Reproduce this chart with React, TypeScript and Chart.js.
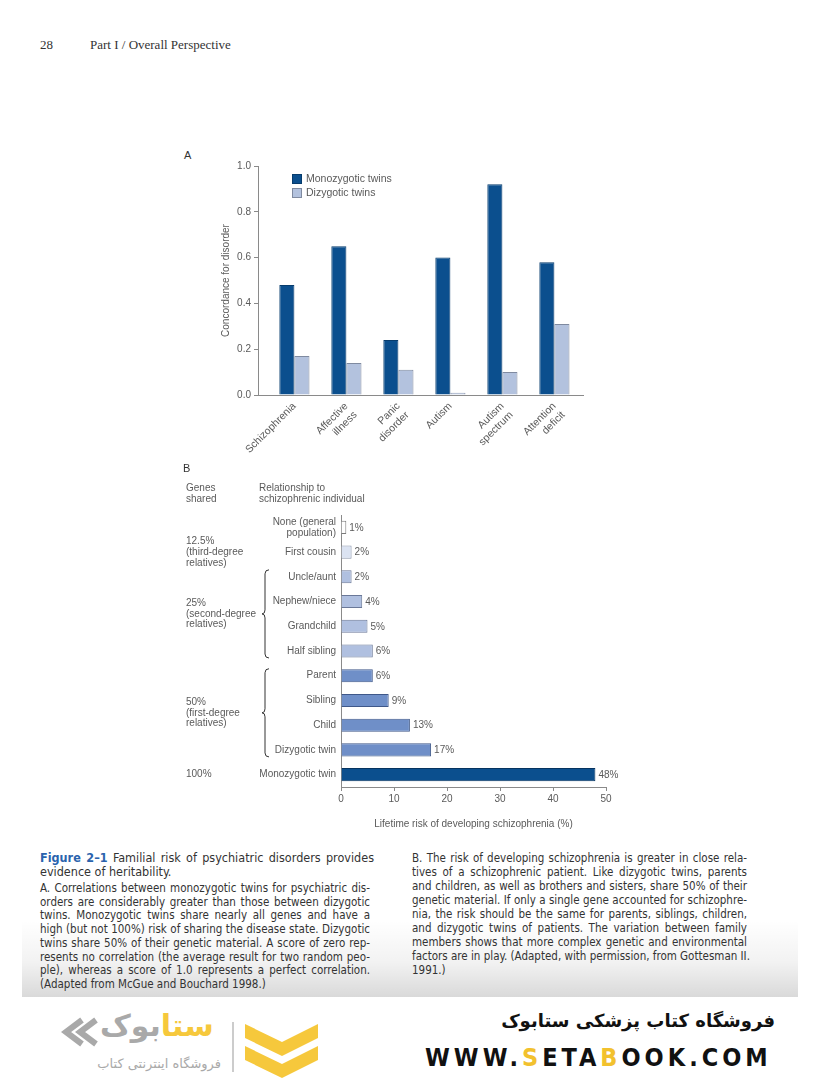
import React, { useEffect, useRef } from "react";
import { Chart, registerables } from "chart.js";

Chart.register(...registerables);

// ---------- Panel A data ----------
const disordersA: string[][] = [
  ["Schizophrenia"],
  ["Affective", "illness"],
  ["Panic", "disorder"],
  ["Autism"],
  ["Autism", "spectrum"],
  ["Attention", "deficit"],
];
const monozygoticA = [0.48, 0.65, 0.24, 0.6, 0.92, 0.58];
const dizygoticA = [0.17, 0.14, 0.11, 0.01, 0.1, 0.31];
const yTicksA = [0, 0.2, 0.4, 0.6, 0.8, 1.0];

// ---------- Panel B data ----------
const relationsB: (string | string[])[] = [
  ["None (general", "population)"],
  "First cousin",
  "Uncle/aunt",
  "Nephew/niece",
  "Grandchild",
  "Half sibling",
  "Parent",
  "Sibling",
  "Child",
  "Dizygotic twin",
  "Monozygotic twin",
];
const riskB = [1, 2, 2, 4, 5, 6, 6, 9, 13, 17, 48];
const xTicksB = [0, 10, 20, 30, 40, 50];
// genetic-relatedness group of each row (0 none, 1 third, 2 second, 3 first, 4 identical)
const groupB = [0, 1, 2, 2, 2, 2, 3, 3, 3, 3, 4];
const fillB = ["#ffffff", "#dbe3f2", "#b0c0e0", "#6f8fc8", "#0b4f8e"];
const edgeB = ["#7a7a7a", "#8b96ab", "#6a7898", "#3f5889", "#06335f"];
const genesGroupsB = [
  { lines: ["12.5%", "(third-degree", "relatives)"], from: 1, to: 1, brace: false },
  { lines: ["25%", "(second-degree", "relatives)"], from: 2, to: 5, brace: true },
  { lines: ["50%", "(first-degree", "relatives)"], from: 6, to: 9, brace: true },
  { lines: ["100%"], from: 10, to: 10, brace: false },
];

const FONT = "'Liberation Sans', Arial, sans-serif";
const TXT = "#5a5a5a";

Chart.defaults.font.family = FONT;
Chart.defaults.color = TXT;

const legendPluginA = {
  id: "legendA",
  afterDraw(chart: any) {
    const { ctx, chartArea } = chart;
    ctx.save();
    chart.data.datasets.forEach((ds: any, i: number) => {
      const x = chartArea.left + 34;
      const y = chartArea.top + 8 + i * 14;
      ctx.fillStyle = ds.backgroundColor;
      ctx.fillRect(x, y, 10, 10);
      ctx.strokeStyle = ds.borderColor;
      ctx.lineWidth = 1;
      ctx.strokeRect(x + 0.5, y + 0.5, 9, 9);
      ctx.fillStyle = TXT;
      ctx.font = `10.5px ${FONT}`;
      ctx.textBaseline = "middle";
      ctx.textAlign = "left";
      ctx.fillText(ds.label, x + 14, y + 5.5);
    });
    ctx.restore();
  },
};

const annotPluginB = {
  id: "annotB",
  afterDraw(chart: any) {
    const { ctx } = chart;
    const yScale = chart.scales.y;
    const meta = chart.getDatasetMeta(0);
    ctx.save();
    ctx.font = `10px ${FONT}`;
    ctx.fillStyle = TXT;
    ctx.textBaseline = "middle";
    ctx.textAlign = "left";
    // value labels
    meta.data.forEach((bar: any, i: number) => {
      ctx.fillText(`${riskB[i]}%`, bar.x + 3, bar.y + 0.5);
    });
    // genes shared groups
    genesGroupsB.forEach((g) => {
      const y0 = yScale.getPixelForValue(g.from);
      const y1 = yScale.getPixelForValue(g.to);
      const yc = (y0 + y1) / 2;
      const lh = 10.8;
      const start = yc - ((g.lines.length - 1) * lh) / 2;
      g.lines.forEach((t, k) => ctx.fillText(t, 16, start + k * lh));
      if (g.brace) {
        const top = y0 - 7;
        const bot = y1 + 7;
        const mid = (top + bot) / 2;
        const x = 95;
        ctx.strokeStyle = "#333";
        ctx.lineWidth = 1;
        ctx.beginPath();
        ctx.moveTo(x + 4, top);
        ctx.quadraticCurveTo(x, top, x, top + 4);
        ctx.lineTo(x, mid - 4);
        ctx.quadraticCurveTo(x, mid, x - 3, mid);
        ctx.quadraticCurveTo(x, mid, x, mid + 4);
        ctx.lineTo(x, bot - 4);
        ctx.quadraticCurveTo(x, bot, x + 4, bot);
        ctx.stroke();
      }
    });
    ctx.restore();
  },
};

function ChartA() {
  const ref = useRef<HTMLCanvasElement>(null);
  useEffect(() => {
    if (!ref.current) return;
    const chart = new Chart(ref.current, {
      type: "bar",
      data: {
        datasets: [
          {
            label: "Monozygotic twins",
            data: monozygoticA.map((v, i) => ({ x: i, y: v })),
            backgroundColor: "#0b4f8e",
            borderColor: "#073c6d",
            borderWidth: 1,
            categoryPercentage: 0.58,
            barPercentage: 1,
          },
          {
            label: "Dizygotic twins",
            data: dizygoticA.map((v, i) => ({ x: i, y: v })),
            backgroundColor: "#b3c2de",
            borderColor: "#7f8aa0",
            borderWidth: 1,
            categoryPercentage: 0.58,
            barPercentage: 1,
          },
        ],
      } as any,
      options: {
        responsive: false,
        animation: false,
        layout: { padding: { left: 46, top: 26, right: 27, bottom: 0 } },
        plugins: { legend: { display: false }, tooltip: { enabled: false } },
        scales: {
          x: {
            type: "linear",
            offset: false,
            min: -0.7,
            max: 5.55,
            afterBuildTicks: (s: any) => {
              s.ticks = disordersA.map((_, i) => ({ value: i }));
            },
            afterFit: (s: any) => {
              s.height = 75;
            },
            grid: { display: true, offset: false, drawOnChartArea: false, drawTicks: false },
            border: { color: "#8a8a8a" },
            ticks: {
              autoSkip: false,
              minRotation: 45,
              maxRotation: 45,
              padding: 5,
              color: TXT,
              font: { size: 10.5 },
              callback: (v: any) => disordersA[v] ?? "",
            },
          },
          y: {
            min: 0,
            max: 1,
            afterBuildTicks: (s: any) => {
              s.ticks = yTicksA.map((v) => ({ value: v }));
            },
            afterFit: (s: any) => {
              s.width = 42;
            },
            grid: { drawOnChartArea: false, tickLength: 4, color: "#8a8a8a" },
            border: { color: "#8a8a8a" },
            ticks: {
              padding: 3,
              color: TXT,
              font: { size: 10 },
              callback: (v: any) => Number(v).toFixed(1),
            },
            title: {
              display: true,
              text: "Concordance for disorder",
              color: TXT,
              font: { size: 10 },
            },
          },
        },
      } as any,
      plugins: [legendPluginA],
    });
    return () => chart.destroy();
  }, []);
  return <canvas ref={ref} width={440} height={330} style={{ display: "block", width: 440, height: 330 }} />;
}

function ChartB() {
  const ref = useRef<HTMLCanvasElement>(null);
  useEffect(() => {
    if (!ref.current) return;
    const chart = new Chart(ref.current, {
      type: "bar",
      data: {
        labels: relationsB,
        datasets: [
          {
            label: "Lifetime risk",
            data: riskB,
            backgroundColor: groupB.map((g) => fillB[g]),
            borderColor: groupB.map((g) => edgeB[g]),
            borderWidth: 1,
            categoryPercentage: 0.53,
            barPercentage: 1,
          },
        ],
      } as any,
      options: {
        indexAxis: "y",
        responsive: false,
        animation: false,
        layout: { padding: { left: 0, top: 45, right: 24, bottom: 0 } },
        plugins: { legend: { display: false }, tooltip: { enabled: false } },
        scales: {
          x: {
            min: 0,
            max: 50,
            afterBuildTicks: (s: any) => {
              s.ticks = xTicksB.map((v) => ({ value: v }));
            },
            afterFit: (s: any) => {
              s.height = 43;
            },
            grid: { drawOnChartArea: false, tickLength: 4, color: "#8a8a8a" },
            border: { color: "#8a8a8a" },
            ticks: { padding: 2, color: TXT, font: { size: 10 } },
            title: {
              display: true,
              text: "Lifetime risk of developing schizophrenia (%)",
              color: TXT,
              font: { size: 10 },
              padding: { top: 4, bottom: 0 },
            },
          },
          y: {
            afterFit: (s: any) => {
              s.width = 171;
            },
            grid: { drawOnChartArea: false, drawTicks: false },
            border: { color: "#8a8a8a" },
            ticks: { padding: 5, color: TXT, font: { size: 10, lineHeight: 1.1 }, autoSkip: false },
          },
        },
      } as any,
      plugins: [annotPluginB],
    });
    return () => chart.destroy();
  }, []);
  return <canvas ref={ref} width={460} height={360} style={{ display: "block", width: 460, height: 360 }} />;
}

const captionLeft: { t: string; last?: boolean }[] = [
  { t: "A. Correlations between monozygotic twins for psychiatric dis-" },
  { t: "orders are considerably greater than those between dizygotic" },
  { t: "twins. Monozygotic twins share nearly all genes and have a" },
  { t: "high (but not 100%) risk of sharing the disease state. Dizygotic" },
  { t: "twins share 50% of their genetic material. A score of zero rep-" },
  { t: "resents no correlation (the average result for two random peo-" },
  { t: "ple), whereas a score of 1.0 represents a perfect correlation." },
  { t: "(Adapted from McGue and Bouchard 1998.)", last: true },
];
const captionRight: { t: string; last?: boolean }[] = [
  { t: "B. The risk of developing schizophrenia is greater in close rela-" },
  { t: "tives of a schizophrenic patient. Like dizygotic twins, parents" },
  { t: "and children, as well as brothers and sisters, share 50% of their" },
  { t: "genetic material. If only a single gene accounted for schizophre-" },
  { t: "nia, the risk should be the same for parents, siblings, children," },
  { t: "and dizygotic twins of patients. The variation between family" },
  { t: "members shows that more complex genetic and environmental" },
  { t: "factors are in play. (Adapted, with permission, from Gottesman II." },
  { t: "1991.)", last: true },
];

const CAP_FONT = "'Liberation Sans Narrow', 'DejaVu Sans Condensed', 'Arial Narrow', 'Liberation Sans', sans-serif";

function Line({ t, last, top, left, width, size = 11.5 }: any) {
  return (
    <div
      style={{
        position: "absolute",
        top,
        left,
        width,
        whiteSpace: "nowrap",
        textAlign: last ? "left" : "justify",
        textAlignLast: last ? "left" : "justify",
        fontSize: size,
        lineHeight: "14px",
        fontFamily: CAP_FONT,
        color: "#333",
      } as any}
    >
      {t}
    </div>
  );
}

export default function App() {
  const small: React.CSSProperties = { position: "absolute", fontFamily: FONT, fontSize: 10, lineHeight: "11px", color: TXT };
  const serif = "'Liberation Serif', 'DejaVu Serif', serif";
  return (
    <div style={{ position: "absolute", left: 0, top: 0, width: 820, height: 1080, background: "#fff", overflow: "hidden" }}>
      {/* page shading at the bottom */}
      <div
        style={{
          position: "absolute",
          left: 22,
          top: 920,
          width: 776,
          height: 77,
          background: "linear-gradient(to bottom, rgba(0,0,0,0) 0%, rgba(0,0,0,0.05) 55%, rgba(0,0,0,0.15) 100%)",
        }}
      />
      {/* running header */}
      <div style={{ position: "absolute", left: 40, top: 37, fontFamily: serif, fontSize: 13, color: "#333" }}>28</div>
      <div style={{ position: "absolute", left: 90, top: 37, fontFamily: serif, fontSize: 13, color: "#333", whiteSpace: "nowrap" }}>
        Part I / Overall Perspective
      </div>

      {/* Panel A */}
      <div style={{ ...small, left: 184, top: 150, fontSize: 11, color: "#333" }}>A</div>
      <div style={{ position: "absolute", left: 170, top: 140 }}>
        <ChartA />
      </div>

      {/* Panel B */}
      <div style={{ ...small, left: 183, top: 463, fontSize: 11, color: "#333" }}>B</div>
      <div style={{ ...small, left: 186, top: 482 }}>
        Genes
        <br />
        shared
      </div>
      <div style={{ ...small, left: 259, top: 482 }}>
        Relationship to
        <br />
        schizophrenic individual
      </div>
      <div style={{ position: "absolute", left: 170, top: 470 }}>
        <ChartB />
      </div>

      {/* Caption */}
      <div style={{ position: "absolute", left: 40, top: 851, width: 334, whiteSpace: "nowrap", fontFamily: CAP_FONT, fontSize: 12.5, lineHeight: "14px", color: "#333", textAlign: "justify", textAlignLast: "justify" } as any}>
        <span style={{ color: "#2a63ad", fontWeight: "bold" }}>Figure 2–1</span> Familial risk of psychiatric disorders provides
      </div>
      <div style={{ position: "absolute", left: 40, top: 865, fontFamily: CAP_FONT, fontSize: 12.5, lineHeight: "14px", color: "#333" }}>
        evidence of heritability.
      </div>
      {captionLeft.map((l, i) => (
        <Line key={"l" + i} t={l.t} last={l.last} left={40} top={881 + i * 13.7} width={330} />
      ))}
      {captionRight.map((l, i) => (
        <Line key={"r" + i} t={l.t} last={l.last} left={412} top={851 + i * 14} width={335} />
      ))}

      {/* Watermark / logo */}
      <svg style={{ position: "absolute", left: 60, top: 1012 }} width={270} height={68} viewBox="0 0 270 68">
        <polyline points="22,8 6,20 22,32" fill="none" stroke="#a9a9a9" strokeWidth={6} />
        <polyline points="36,8 20,20 36,32" fill="none" stroke="#a9a9a9" strokeWidth={6} />
        <line x1={173} y1={10} x2={173} y2={60} stroke="#bbb" strokeWidth={1.5} />
        <polygon points="185,12 222,30 258,12 258,26 222,44 185,26" fill="#f6c83c" />
        <polygon points="185,34 222,52 258,34 258,48 222,66 185,48" fill="#f6c83c" />
      </svg>
      <div style={{ position: "absolute", left: 100, top: 1008, fontFamily: "'DejaVu Sans', sans-serif", fontSize: 30, fontWeight: "bold", direction: "rtl", whiteSpace: "nowrap" }}>
        <span style={{ color: "#f6c83c" }}>ستا</span>
        <span style={{ color: "#a9a9a9" }}>بوک</span>
      </div>
      <div style={{ position: "absolute", left: 76, top: 1056, width: 145, textAlign: "right", fontFamily: "'DejaVu Sans', sans-serif", fontSize: 13, color: "#a9a9a9", direction: "rtl", whiteSpace: "nowrap" }}>
        فروشگاه اینترنتی کتاب
      </div>
      <div style={{ position: "absolute", right: 45, top: 1010, fontFamily: "'DejaVu Sans', sans-serif", fontSize: 18, fontWeight: "bold", color: "#111", direction: "rtl", whiteSpace: "nowrap" }}>
        فروشگاه کتاب پزشکی ستابوک
      </div>
      <div style={{ position: "absolute", left: 425, top: 1043, width: 362, whiteSpace: "nowrap", textAlign: "justify", textAlignLast: "justify", fontFamily: "'DejaVu Sans Condensed', 'Liberation Sans', sans-serif", fontSize: 25, fontWeight: "bold", letterSpacing: 4, color: "#111" } as any}>
        WWW.<span style={{ color: "#f2c12e" }}>S</span>ETA<span style={{ color: "#f2c12e" }}>B</span>OOK.COM
      </div>
    </div>
  );
}
